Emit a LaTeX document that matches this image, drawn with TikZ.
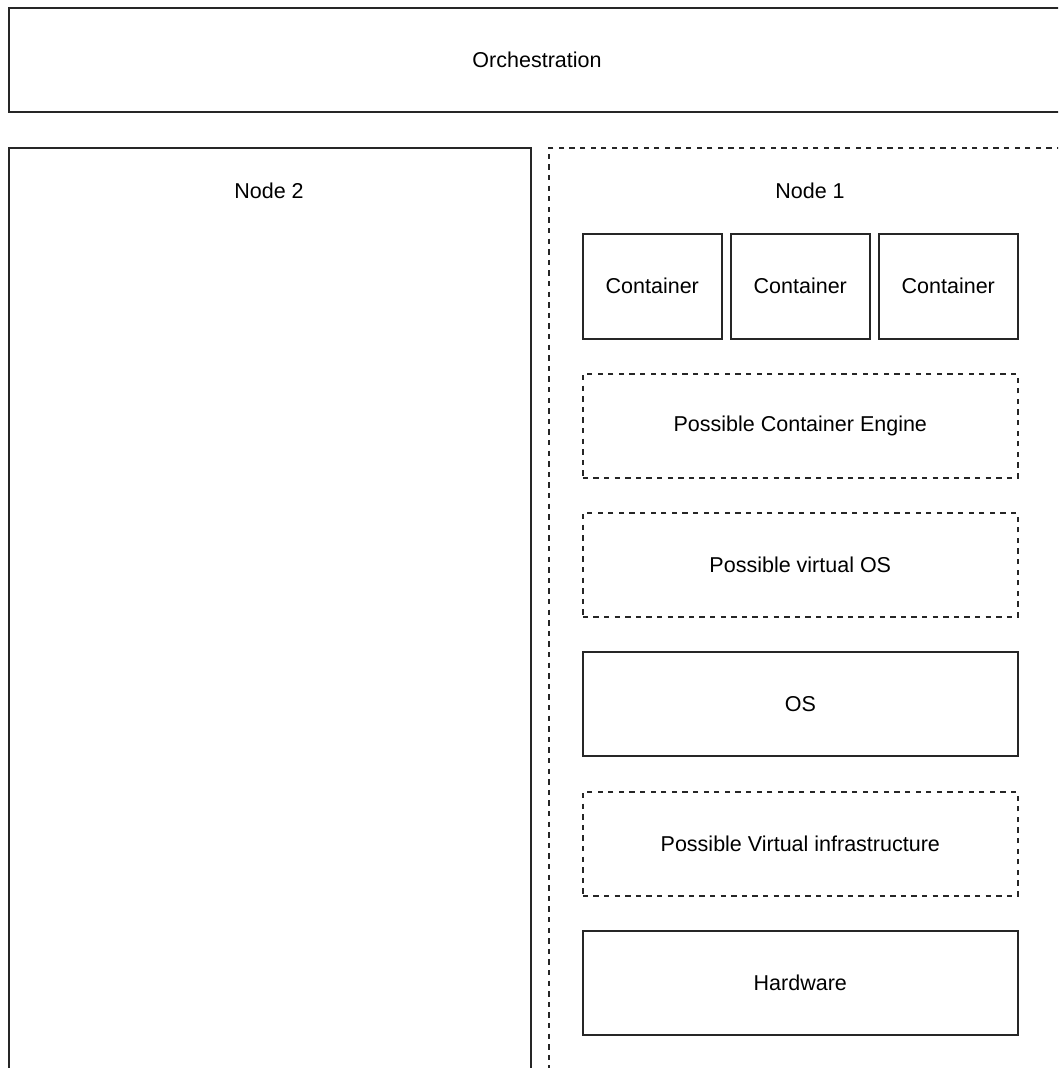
\documentclass[tikz,border=0pt]{standalone}
\usepackage{fontspec}
\setmainfont{Liberation Sans}
\begin{document}
\begin{tikzpicture}[x=1pt,y=-1pt,
  every node/.style={font=\fontsize{21.5}{25}\selectfont, text=black},
  layer/.style={draw=black!85, line width=1.6pt, rectangle, inner sep=0pt, anchor=north west},
  optional/.style={layer, dash pattern=on 5.3pt off 5.3pt},
  caption/.style={inner sep=0pt}]
  \useasboundingbox (0,0) rectangle (1058,1068);
  \clip (0,0) rectangle (1058,1068);
  % orchestration layer across the top
  \node[layer, minimum width=1060pt, minimum height=104pt] (orch) at (8,7) {};
  \node[caption] (orchtext) at (537,60) {Orchestration};
  % cluster nodes
  \node[layer, minimum width=522pt, minimum height=960pt] (node2) at (8,147) {};
  \node[caption] (node2text) at (269,191) {Node 2};
  \node[optional, minimum width=524pt, minimum height=960pt] (node1) at (548,147) {};
  \node[caption] (node1text) at (810,191) {Node 1};
  % containers
  \node[layer, minimum width=139pt, minimum height=105pt] (c1) at (582,233) {};
  \node[caption] at (c1.center) {Container};
  \node[layer, minimum width=139pt, minimum height=105pt] (c2) at (730,233) {};
  \node[caption] at (c2.center) {Container};
  \node[layer, minimum width=139pt, minimum height=105pt] (c3) at (878,233) {};
  \node[caption] at (c3.center) {Container};
  % stack below the containers
  \node[optional, minimum width=435pt, minimum height=104pt] (engine) at (582,373) {};
  \node[caption] at (engine.center) {Possible Container Engine};
  \node[optional, minimum width=435pt, minimum height=104pt] (vos) at (582,512) {};
  \node[caption] at (vos.center) {Possible virtual OS};
  \node[layer, minimum width=435pt, minimum height=104pt] (os) at (582,651) {};
  \node[caption] at (os.center) {OS};
  \node[optional, minimum width=435pt, minimum height=104pt] (vinfra) at (582,791) {};
  \node[caption] at (vinfra.center) {Possible Virtual infrastructure};
  \node[layer, minimum width=435pt, minimum height=104pt] (hw) at (582,930) {};
  \node[caption] at (hw.center) {Hardware};
\end{tikzpicture}
\end{document}
